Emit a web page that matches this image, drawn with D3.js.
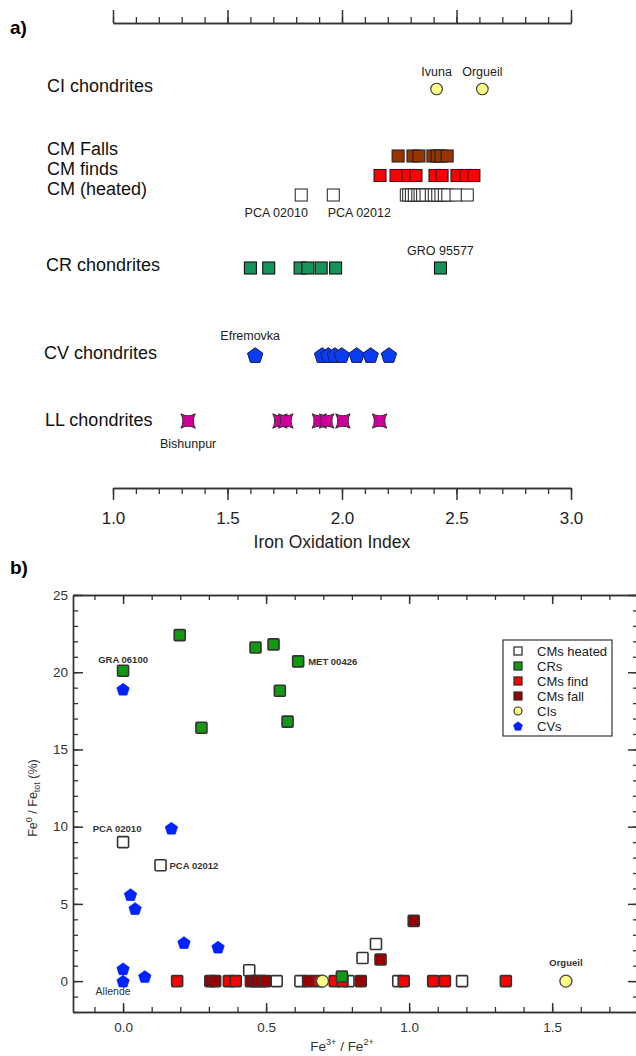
<!DOCTYPE html>
<html><head><meta charset="utf-8">
<script src="https://cdn.jsdelivr.net/npm/d3@7"></script>
<style>
body{margin:0;background:#fff;}
text{font-family:Arial,"Liberation Sans",sans-serif;}
</style>
</head><body>
<svg id="c" width="636" height="1056" xmlns="http://www.w3.org/2000/svg"></svg>
<script>
// ---------------- DATA: panel a (Iron Oxidation Index) ----------------
const aMajorTicks = [1.0, 1.5, 2.0, 2.5, 3.0];
const aMinorTicks = d3.range(1.0, 3.0001, 0.1);
const ciA = [2.413, 2.613];
const ciNamesA = ["Ivuna", "Orgueil"];
const cmFallsA = [2.245, 2.31, 2.336, 2.397, 2.415, 2.432, 2.459];
const cmFindsA = [2.166, 2.236, 2.288, 2.323, 2.406, 2.437, 2.502, 2.541, 2.576];
const cmHeatedA = [1.822, 1.962, 2.281, 2.291, 2.303, 2.316, 2.331, 2.341, 2.352, 2.367, 2.390, 2.403, 2.418, 2.432, 2.447, 2.462, 2.498, 2.547];
const crA = [1.600, 1.680, 1.817, 1.851, 1.909, 1.972, 2.430];
const cvA = [1.621, 1.913, 1.940, 1.969, 1.999, 2.064, 2.125, 2.205];
const llA = [1.328, 1.729, 1.755, 1.901, 1.933, 2.004, 2.164];
const rowLabelsA = ["CI chondrites", "CM Falls", "CM finds", "CM (heated)", "CR chondrites", "CV chondrites", "LL chondrites"];
const aAxisTitle = "Iron Oxidation Index";

// ---------------- DATA: panel b ----------------
const bXTicks = [0.0, 0.5, 1.0, 1.5];
const bYTicks = [0, 5, 10, 15, 20, 25];
const heatedBx = [0.0, 0.131, 0.441, 0.537, 0.62, 0.788, 0.837, 0.884, 0.962, 1.185];
const heatedBy = [9.0, 7.5, 0.7, 0, 0, 0, 1.5, 2.4, 0, 0];
const crBx = [0.0, 0.198, 0.274, 0.463, 0.526, 0.548, 0.575, 0.612, 0.765];
const crBy = [20.1, 22.4, 16.4, 21.6, 21.8, 18.8, 16.8, 20.7, 0.3];
const findBx = [0.189, 0.370, 0.394, 0.682, 0.74, 0.767, 0.981, 1.084, 1.125, 1.338];
const findBy = [0, 0, 0, 0, 0, 0, 0, 0, 0, 0];
const fallBx = [0.305, 0.322, 0.447, 0.464, 0.482, 0.498, 0.647, 0.831, 0.9, 1.016];
const fallBy = [0, 0, 0, 0, 0, 0, 0, 0, 1.4, 3.9];
const ciBx = [0.697, 1.548];
const ciBy = [0, 0];
const cvBx = [0.0, 0.169, 0.026, 0.042, 0.213, 0.332, 0.0, 0.076, 0.0];
const cvBy = [18.9, 9.9, 5.6, 4.7, 2.5, 2.2, 0.8, 0.3, 0.0];
const legendNames = ["CMs heated", "CRs", "CMs find", "CMs fall", "CIs", "CVs"];

// ---------------- helpers ----------------
const svg = d3.select("#c");
svg.append("rect").attr("width", 636).attr("height", 1056).attr("fill", "#fff");

const pentagon = {
  draw(ctx, size) {
    const r = Math.sqrt(size);
    for (let i = 0; i < 5; i++) {
      const a = -Math.PI / 2 + i * 2 * Math.PI / 5;
      const x = r * Math.cos(a), y = r * Math.sin(a) + r * 0.1;
      if (i === 0) ctx.moveTo(x, y); else ctx.lineTo(x, y);
    }
    ctx.closePath();
  }
};
const concaveStar = {
  draw(ctx, size) {
    const r = Math.sqrt(size), q = -0.45 * r;
    ctx.moveTo(-r, -r);
    ctx.quadraticCurveTo(0, q, r, -r);
    ctx.quadraticCurveTo(-q, 0, r, r);
    ctx.quadraticCurveTo(0, -q, -r, r);
    ctx.quadraticCurveTo(q, 0, -r, -r);
    ctx.closePath();
  }
};

// ================= PANEL A =================
const xA = d3.scaleLinear().domain([1, 3]).range([113, 571]);
const rowY = d3.scaleOrdinal().domain(rowLabelsA).range([89, 156, 175.5, 195, 268, 355, 421]);
const rowTextY = d3.scaleOrdinal().domain(rowLabelsA).range([92, 155, 175, 195, 271, 359, 426]);
const rowTextX = d3.scaleOrdinal().domain(rowLabelsA).range([47, 47, 47, 47, 46, 44, 45]);

svg.append("text").attr("x", 10).attr("y", 34).attr("font-size", 19).attr("font-weight", "bold").text("a)");

function styleAxis(g, w) {
  g.selectAll("path,line").attr("stroke", "#333").attr("stroke-width", w);
}
// top axis
const gTopMin = svg.append("g").attr("transform", "translate(0,23)")
  .call(d3.axisTop(xA).tickValues(aMinorTicks).tickSize(6).tickSizeOuter(0).tickFormat(""));
styleAxis(gTopMin, 1.3);
const gTopMaj = svg.append("g").attr("transform", "translate(0,23)")
  .call(d3.axisTop(xA).tickValues(aMajorTicks).tickSize(13).tickSizeOuter(0).tickFormat(""));
styleAxis(gTopMaj, 1.5);
// bottom axis
const gBotMin = svg.append("g").attr("transform", "translate(0,488)")
  .call(d3.axisBottom(xA).tickValues(aMinorTicks).tickSize(6).tickSizeOuter(0).tickFormat(""));
styleAxis(gBotMin, 1.3);
const gBotMaj = svg.append("g").attr("transform", "translate(0,488)")
  .call(d3.axisBottom(xA).tickValues(aMajorTicks).tickSize(12).tickSizeOuter(0).tickPadding(12).tickFormat(d3.format(".1f")));
styleAxis(gBotMaj, 1.5);
gBotMaj.selectAll("text").attr("font-size", 17).attr("fill", "#222").attr("font-family", "Arial, Liberation Sans, sans-serif");

svg.append("text").attr("x", xA(1.956)).attr("y", 548).attr("text-anchor", "middle")
  .attr("font-size", 17.5).attr("fill", "#222").text(aAxisTitle);

// row labels
svg.selectAll("text.row").data(rowLabelsA).enter().append("text").attr("class", "row")
  .attr("x", d => rowTextX(d)).attr("y", d => rowTextY(d)).attr("font-size", 18).attr("fill", "#111")
  .text(d => d);

function rowSquares(data, row, fill, stroke, sz) {
  svg.append("g").selectAll("rect").data(data).enter().append("rect")
    .attr("x", d => xA(d) - sz / 2).attr("y", rowY(row) - sz / 2)
    .attr("width", sz).attr("height", sz)
    .attr("fill", fill).attr("stroke", stroke).attr("stroke-width", 1.1);
}
rowSquares(cmFallsA, "CM Falls", "#993300", "#222", 12);
rowSquares(cmFindsA, "CM finds", "#ff0000", "#222", 12);
rowSquares(cmHeatedA, "CM (heated)", "#ffffff", "#333", 12);
rowSquares(crA, "CR chondrites", "#17945a", "#111", 12);

svg.append("g").selectAll("circle").data(ciA).enter().append("circle")
  .attr("cx", d => xA(d)).attr("cy", rowY("CI chondrites")).attr("r", 5.8)
  .attr("fill", "#ffff88").attr("stroke", "#333").attr("stroke-width", 1.1);

svg.append("g").selectAll("path").data(cvA).enter().append("path")
  .attr("transform", d => `translate(${xA(d)},${rowY("CV chondrites")})`)
  .attr("d", d3.symbol().type(pentagon).size(66))
  .attr("fill", "#0a3cf0").attr("stroke", "#1a1a55").attr("stroke-width", 1);

svg.append("g").selectAll("path").data(llA).enter().append("path")
  .attr("transform", d => `translate(${xA(d)},${rowY("LL chondrites")})`)
  .attr("d", d3.symbol().type(concaveStar).size(52))
  .attr("fill", "#cc0099").attr("stroke", "#333").attr("stroke-width", 1);

// panel a point labels
const aLabel = (txt, x, y) => svg.append("text").attr("x", x).attr("y", y).attr("text-anchor", "middle")
  .attr("font-size", 12.5).attr("fill", "#222").text(txt);
aLabel(ciNamesA[0], xA(ciA[0]), 76);
aLabel(ciNamesA[1], xA(ciA[1]), 76);
aLabel("PCA 02010", xA(cmHeatedA[0]) - 25, 217);
aLabel("PCA 02012", xA(cmHeatedA[1]) + 26, 217);
aLabel("GRO 95577", xA(crA[6]), 255);
aLabel("Efremovka", xA(cvA[0]) - 5, 340);
aLabel("Bishunpur", xA(llA[0]), 448);

// ================= PANEL B =================
const xB = d3.scaleLinear().domain([-0.175, 1.8]).range([73, 638]);
const yB = d3.scaleLinear().domain([-2, 25]).range([1012, 595]);
const bMinorX = d3.range(-0.1, 1.80001, 0.1);
const bMinorY = d3.range(-2, 25.0001, 1);

svg.append("text").attr("x", 10).attr("y", 574).attr("font-size", 19).attr("font-weight", "bold").text("b)");

function axisB(gen, tx, ty, w) {
  const g = svg.append("g").attr("transform", `translate(${tx},${ty})`).call(gen);
  g.selectAll("path,line").attr("stroke", "#333").attr("stroke-width", w);
  g.selectAll("text").attr("font-size", 13.5).attr("fill", "#333").attr("font-family", "Arial, Liberation Sans, sans-serif");
  return g;
}
// bottom
axisB(d3.axisBottom(xB).tickValues(bMinorX).tickSize(-5).tickSizeOuter(0).tickFormat(""), 0, 1012, 1.3);
axisB(d3.axisBottom(xB).tickValues(bXTicks).tickSize(-9).tickSizeOuter(0).tickPadding(10).tickFormat(d3.format(".1f")), 0, 1012, 1.5);
// top
axisB(d3.axisTop(xB).tickValues(bMinorX).tickSize(-5).tickSizeOuter(0).tickFormat(""), 0, 595, 1.3);
axisB(d3.axisTop(xB).tickValues(bXTicks).tickSize(-9).tickSizeOuter(0).tickFormat(""), 0, 595, 1.5);
// left
axisB(d3.axisLeft(yB).tickValues(bMinorY).tickSize(-5).tickSizeOuter(0).tickFormat(""), 73, 0, 1.3);
axisB(d3.axisLeft(yB).tickValues(bYTicks).tickSize(-10).tickSizeOuter(0).tickPadding(5).tickFormat(d3.format("d")), 73, 0, 1.5);
// right
axisB(d3.axisRight(yB).tickValues(bMinorY).tickSize(-5).tickSizeOuter(0).tickFormat(""), 638, 0, 1.3);
axisB(d3.axisRight(yB).tickValues(bYTicks).tickSize(-10).tickSizeOuter(0).tickFormat(""), 638, 0, 1.5);

// axis titles
const xt = svg.append("text").attr("x", 342).attr("y", 1051).attr("text-anchor", "middle")
  .attr("font-size", 13.5).attr("fill", "#333");
xt.append("tspan").text("Fe");
xt.append("tspan").attr("dy", -6).attr("font-size", 9).text("3+");
xt.append("tspan").attr("dy", 6).text(" / Fe");
xt.append("tspan").attr("dy", -6).attr("font-size", 9).text("2+");

const yt = svg.append("text").attr("transform", "translate(37,798) rotate(-90)").attr("text-anchor", "middle")
  .attr("font-size", 12.5).attr("fill", "#333");
yt.append("tspan").text("Fe");
yt.append("tspan").attr("dy", -5).attr("font-size", 9).text("0");
yt.append("tspan").attr("dy", 5).text(" / Fe");
yt.append("tspan").attr("dy", 3).attr("font-size", 9).text("tot");
yt.append("tspan").attr("dy", -3).text(" (%)");

function bSquares(xs, ys, fill) {
  svg.append("g").selectAll("rect").data(xs).enter().append("rect")
    .attr("x", (d) => xB(d) - 5.5).attr("y", (d, i) => yB(ys[i]) - 5.5)
    .attr("width", 11).attr("height", 11).attr("rx", 1)
    .attr("fill", fill).attr("stroke", "#333").attr("stroke-width", 1.6);
}
bSquares(heatedBx, heatedBy, "#ffffff");
bSquares(findBx, findBy, "#ff0000");
bSquares(fallBx, fallBy, "#990000");
bSquares(crBx, crBy, "#119911");
svg.append("g").selectAll("circle").data(ciBx).enter().append("circle")
  .attr("cx", d => xB(d)).attr("cy", (d, i) => yB(ciBy[i])).attr("r", 6)
  .attr("fill", "#ffff88").attr("stroke", "#444").attr("stroke-width", 1.3);
svg.append("g").selectAll("path").data(cvBx).enter().append("path")
  .attr("transform", (d, i) => `translate(${xB(d)},${yB(cvBy[i])})`)
  .attr("d", d3.symbol().type(pentagon).size(42))
  .attr("fill", "#0022ff").attr("stroke", "#0022ff").attr("stroke-width", 0.8);

// panel b labels
const bLabel = (txt, x, y, anchor, bold) => svg.append("text").attr("x", x).attr("y", y)
  .attr("text-anchor", anchor).attr("font-size", 9.5).attr("font-weight", bold ? "bold" : "normal")
  .attr("fill", "#333").text(txt);
bLabel("GRA 06100", xB(crBx[0]), yB(crBy[0]) - 8, "middle", true);
bLabel("MET 00426", xB(crBx[7]) + 10, yB(crBy[7]) + 3.5, "start", true);
bLabel("PCA 02010", xB(heatedBx[0]) - 6, yB(heatedBy[0]) - 10, "middle", true);
bLabel("PCA 02012", xB(heatedBx[1]) + 9, yB(heatedBy[1]) + 4, "start", true);
bLabel("Orgueil", xB(ciBx[1]), yB(ciBy[1]) - 15, "middle", true);
svg.append("text").attr("x", xB(cvBx[8]) - 10).attr("y", yB(cvBy[8]) + 14).attr("text-anchor", "middle")
  .attr("font-size", 10.5).attr("fill", "#333").text("Allende");

// legend
const lg = svg.append("g");
lg.append("rect").attr("x", 503).attr("y", 640).attr("width", 109).attr("height", 96)
  .attr("fill", "#fff").attr("stroke", "#333").attr("stroke-width", 1.2);
const legY = d3.scalePoint().domain(legendNames).range([651, 726]);
const legFill = d3.scaleOrdinal().domain(legendNames).range(["#ffffff", "#119911", "#ff0000", "#990000", "#ffff88", "#0022ff"]);
legendNames.forEach(n => {
  const cy = legY(n);
  if (n === "CIs") {
    lg.append("circle").attr("cx", 518).attr("cy", cy).attr("r", 4).attr("fill", legFill(n)).attr("stroke", "#333").attr("stroke-width", 1.2);
  } else if (n === "CVs") {
    lg.append("path").attr("transform", `translate(518,${cy})`).attr("d", d3.symbol().type(pentagon).size(22))
      .attr("fill", legFill(n)).attr("stroke", legFill(n)).attr("stroke-width", 0.6);
  } else {
    lg.append("rect").attr("x", 514).attr("y", cy - 4).attr("width", 8).attr("height", 8)
      .attr("fill", legFill(n)).attr("stroke", "#333").attr("stroke-width", 1.3);
  }
  lg.append("text").attr("x", 537).attr("y", cy + 4.5).attr("font-size", 13).attr("fill", "#222").text(n);
});
</script>
</body></html>
